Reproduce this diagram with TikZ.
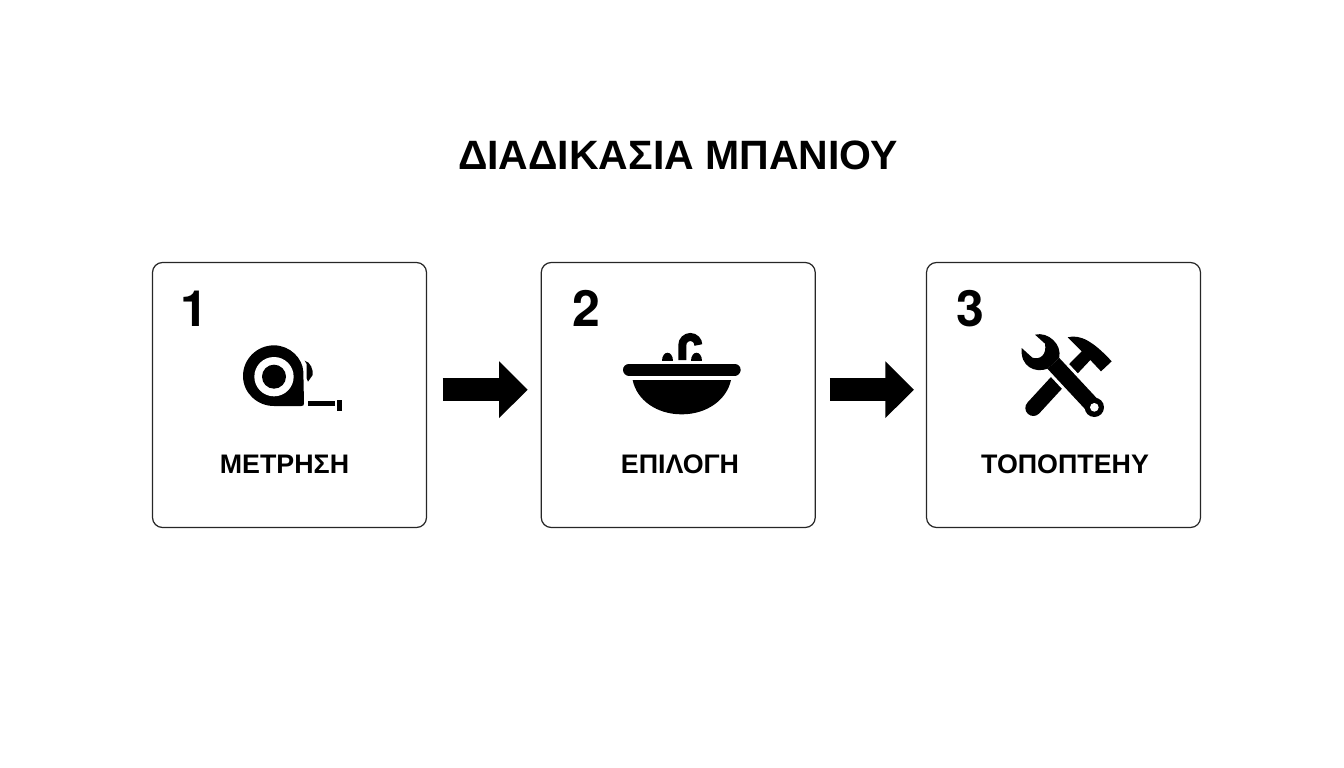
\documentclass[tikz,border=0pt]{standalone}
\usepackage{fontspec}
\setmainfont{Liberation Sans}
\newfontfamily\numfont{TeX Gyre Heros}
\usetikzlibrary{arrows.meta}
\tikzset{
  card/.style={draw=black!85,line width=1.2pt,rounded corners=10pt,fill=white,minimum width=274pt,minimum height=265pt,inner sep=0pt},
  num/.style={font=\fontsize{50}{50}\numfont\bfseries\selectfont,inner sep=0pt,anchor=base west},
  lab/.style={font=\fontsize{26.8}{26.8}\bfseries\selectfont,inner sep=0pt,anchor=base},
  ttl/.style={font=\fontsize{41}{41}\bfseries\selectfont,inner sep=0pt,anchor=base},
  flow/.style={line width=23pt,-{Triangle[length=28.5pt,width=55pt]}},
  ico/.style={x=.33333pt,y=-.33333pt}
}
\begin{document}
\begin{tikzpicture}[x=1pt,y=-1pt]
\useasboundingbox (0,0) rectangle (1344,768);
\node[ttl] (title) at (678,169) {ΔΙΑΔΙΚΑΣΙΑ ΜΠΑΝΙΟΥ};
\node[card] (b1) at (289.5,395) {};
\node[card] (b2) at (678.25,395) {};
\node[card] (b3) at (1063.5,395) {};
\node[num] (n1) at (180,326) {1};
\node[num] (n2) at (572.5,326) {2};
\node[num] (n3) at (956,326) {3};
\node[lab] (l1) at (284.5,473) {ΜΕΤΡΗΣΗ};
\node[lab] (l2) at (680,473) {ΕΠΙΛΟΓΗ};
\node[lab] (l3) at (1065,473) {ΤΟΠΟΠΤΕΗΥ};
\draw[flow,shorten <=15.5pt,shorten >=13pt] ([yshift=5.3pt]b1.east) -- ([yshift=5.3pt]b2.west);
\draw[flow,shorten <=14pt,shorten >=12pt] ([yshift=5.3pt]b2.east) -- ([yshift=5.3pt]b3.west);
% tape
\begin{scope}[shift={(150,260)}]\begin{scope}[ico]
\fill (462,430) .. controls (462,436) and (460,438) .. (454,438) -- (372,438) .. controls (321,438) and (279,398) .. (279,348) .. controls (279,297) and (321,256) .. (372,256) .. controls (420,256) and (458,295) .. (460,335) -- cycle;
\fill[white] (372,350) circle[radius=59];
\fill (372,350) circle[radius=36];
\fill (464,302) .. controls (482,306) and (490,330) .. (488,345) -- (474,365) -- (470,355) -- (470,312) -- cycle;
\fill (474,423) rectangle (554,437);
\fill (562,421) rectangle (575,453);
\end{scope}\end{scope}
% sink
\begin{scope}[shift={(540,260)}]\begin{scope}[ico]
\draw[line width=12pt,line cap=round] (267,329) -- (584,329);
\fill (278,360) -- (573,360) .. controls (560,420) and (500,463) .. (425,463) .. controls (350,463) and (290,420) .. (278,360) -- cycle;
\draw[line width=8pt] (427,300) -- (427,255) .. controls (427,242) and (438,231) .. (451,231) .. controls (464,231) and (475,242) .. (475,255);
\fill (367,302) .. controls (367,270) and (400,270) .. (400,302) -- cycle;
\fill (453,302) .. controls (453,270) and (486,270) .. (486,302) -- cycle;
\end{scope}\end{scope}
% tools
\begin{scope}[shift={(925,260)}]\begin{scope}[ico]
\draw[line width=16pt,line cap=round] (325,444) -- (417,344);
\fill (428,232) .. controls (465,222) and (505,244) .. (560,304) -- (528,334) -- (496,300) -- (448,351) -- (420,325) -- (470,274) -- cycle;
\draw[white,line width=22pt] (385,310) -- (508,442);
\draw[line width=16pt] (385,310) -- (508,442);
\fill (508,442) circle[radius=29];
\fill (330,224) .. controls (370,214) and (412,254) .. (402.5,293.7) -- (367.5,326.3) .. controls (330,340) and (285,320) .. (290,264) -- (322,293) .. controls (345,300) and (366,285) .. (360,251) -- cycle;
\fill[white] (508,442) circle[radius=13];
\end{scope}\end{scope}
\end{tikzpicture}
\end{document}
